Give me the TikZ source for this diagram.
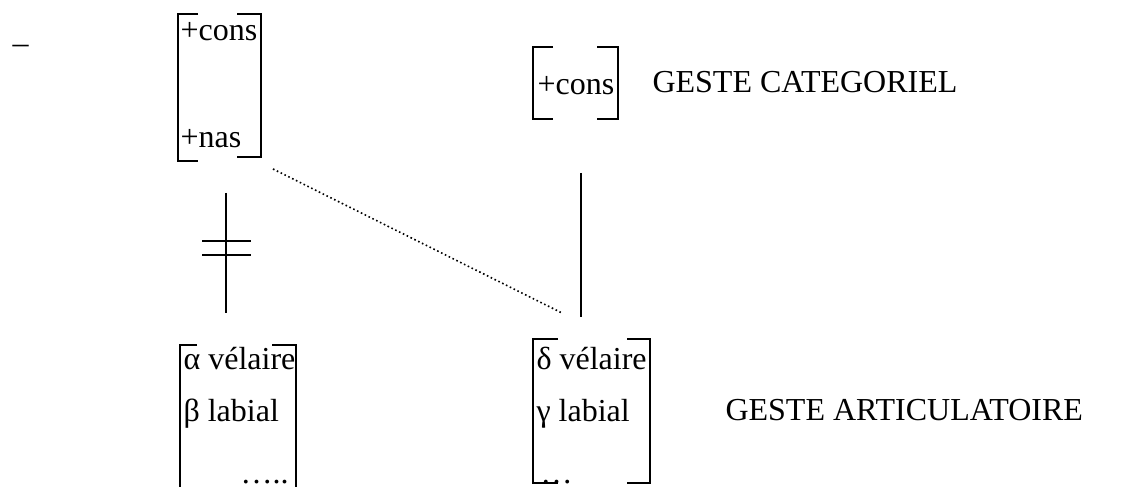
\documentclass[tikz,border=0pt]{standalone}
\usepackage{fontspec}
\setmainfont{Liberation Serif}
\usetikzlibrary{positioning}
\tikzset{
  trait/.style={line width=0.75pt},
  brk/.style={line width=0.75pt, line join=miter},
  lbl/.style={inner sep=0pt, anchor=base west, font=\fontsize{12}{14}\selectfont},
}
\begin{document}
\begin{tikzpicture}[x=0.375pt, y=-0.375pt]
      \useasboundingbox (0,0) rectangle (1133,487);

      \node[lbl] at (12,54) (tiret) {–};

      % geste categoriel
      \node[lbl] at (180,41) (cons1) {+cons};
      \node[lbl] at (180,148) (nas1) {+nas};
      \node[lbl] at (537,95) (cons2) {+cons};
      \node[lbl] at (652,93) (categ) {GESTE CATEGORIEL};

      \draw[brk] (198,14) -- (178,14) -- (178,161) -- (198,161);
      \draw[brk] (237,14) -- (261,14) -- (261,157) -- (237,157);
      \draw[brk] (553,47) -- (533,47) -- (533,119) -- (553,119);
      \draw[brk] (597,47) -- (618,47) -- (618,119) -- (597,119);

      % geste articulatoire
      \node[lbl] at (183,370) (vel1) {α vélaire};
      \node[lbl] at (183,422) (lab1) {β labial};
      \node[lbl] at (240,484) (pts1) {…..};
      \node[lbl] at (536,370) (vel2) {δ vélaire};
      \node[lbl] at (536,422) (lab2) {γ labial};
      \node[lbl] at (540,484) (pts2) {…};
      \node[lbl] at (725,421) (artic) {GESTE ARTICULATOIRE};

      \draw[brk] (197,345) -- (180,345) -- (180,490);
      \draw[brk] (272,345) -- (296,345) -- (296,490);
      \draw[brk] (558,339) -- (533,339) -- (533,483) -- (558,483);
      \draw[brk] (627,339) -- (650,339) -- (650,483) -- (627,483);

      % liens
      \coordinate (g1) at (226,193);
      \coordinate (g2) at (226,313);
      \coordinate (d1) at (581,173);
      \coordinate (d2) at (581,317);
      \coordinate (p1) at (273,169);
      \coordinate (p2) at (562,313);

      \draw[trait] (g1) -- (g2);
      \draw[trait] (202,241) -- (251,241);
      \draw[trait] (202,255) -- (251,255);
      \draw[trait] (d1) -- (d2);
      \draw[densely dotted, line width=0.6pt] (p1) -- (p2);
\end{tikzpicture}
\end{document}
